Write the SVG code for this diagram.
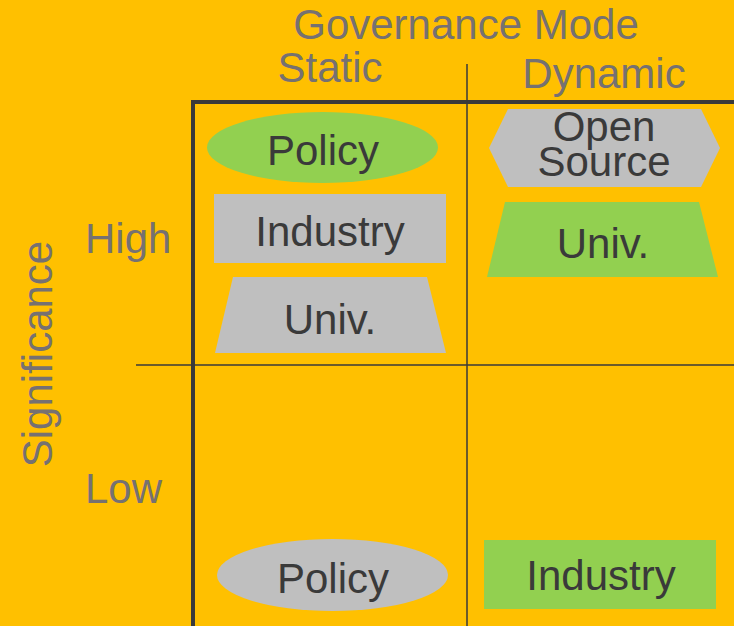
<svg xmlns="http://www.w3.org/2000/svg" width="734" height="626" viewBox="0 0 734 626">
<style>
.hdr{font-family:"Liberation Sans",Arial,sans-serif;font-size:42px;fill:#767171}
.lbl{font-family:"Liberation Sans",Arial,sans-serif;font-size:42px;fill:#3a3a3a;text-anchor:middle}
.green{fill:#92D050}
.gray{fill:#BFBFBF}
.thick{stroke:#3a3a3a;stroke-width:4;fill:none}
.thin{stroke:#3a3a3a;stroke-width:1.5;fill:none}
</style>
<rect x="0" y="0" width="734" height="626" fill="#FFC000"/>
<g id="axes">
<text class="hdr" x="466" y="39" text-anchor="middle">Governance Mode</text>
<text class="hdr" x="330" y="82" text-anchor="middle">Static</text>
<text class="hdr" x="604" y="88" text-anchor="middle">Dynamic</text>
<text class="hdr" x="85" y="253">High</text>
<text class="hdr" x="85" y="503">Low</text>
<text class="hdr" x="0" y="0" text-anchor="middle" transform="translate(52,354) rotate(-90)">Significance</text>
</g>
<g id="connectors">
<path class="thick" d="M193 626 V102 H734"/>
<path class="thin" d="M467 64 V626"/>
<path class="thin" d="M136 365 H734"/>
</g>
<g id="static-high-policy">
<ellipse class="green" cx="322.5" cy="147.5" rx="115.5" ry="35.5"/>
<text class="lbl" x="323" y="165">Policy</text>
</g>
<g id="static-high-industry">
<rect class="gray" x="214" y="194" width="232" height="69"/>
<text class="lbl" x="330" y="246">Industry</text>
</g>
<g id="static-high-univ">
<polygon class="gray" points="233,277 427,277 446,353 215,353"/>
<text class="lbl" x="330" y="334">Univ.</text>
</g>
<g id="dynamic-high-opensource">
<polygon class="gray" points="508,109 701,109 720,148 701,187 508,187 489,148"/>
<text class="lbl" x="604" y="141">Open</text>
<text class="lbl" x="604" y="176">Source</text>
</g>
<g id="dynamic-high-univ">
<polygon class="green" points="505,202 699,202 718,277 487,277"/>
<text class="lbl" x="603" y="258">Univ.</text>
</g>
<g id="static-low-policy">
<ellipse class="gray" cx="332.5" cy="575" rx="115.5" ry="36"/>
<text class="lbl" x="333" y="593">Policy</text>
</g>
<g id="dynamic-low-industry">
<rect class="green" x="484" y="540" width="232" height="69"/>
<text class="lbl" x="601" y="590">Industry</text>
</g>
</svg>
